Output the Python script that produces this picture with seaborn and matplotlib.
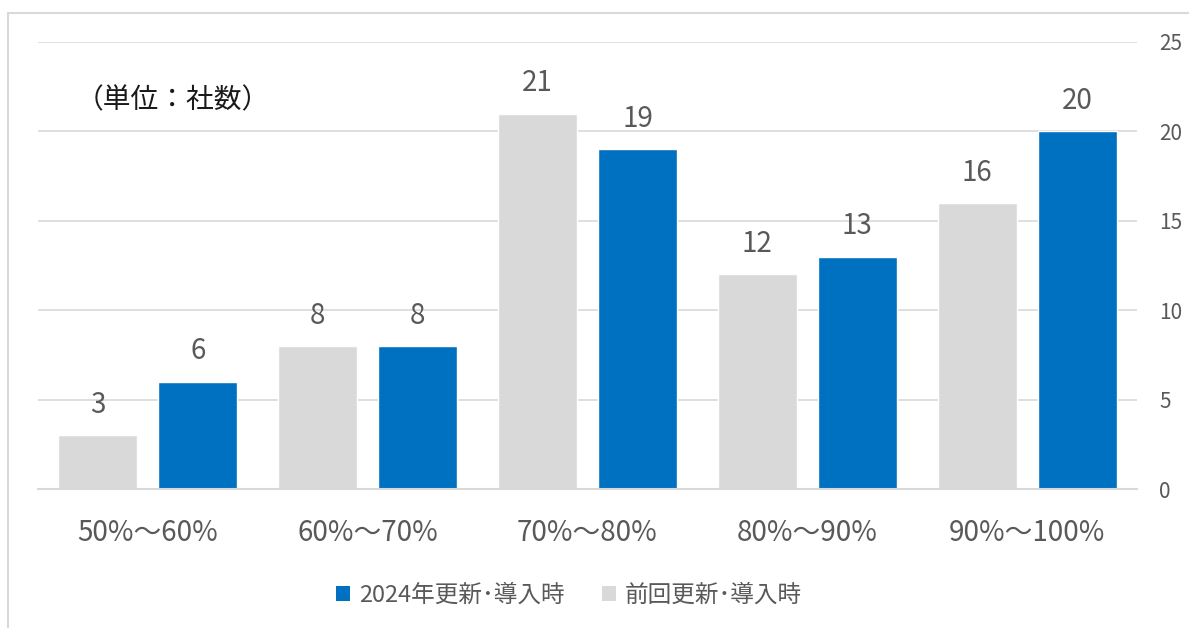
import matplotlib
matplotlib.use("Agg")
import matplotlib.pyplot as plt
from matplotlib.patches import Patch
from matplotlib.lines import Line2D
import seaborn as sns
import pandas as pd

# --- data ---
categories = ["50%～60%", "60%～70%", "70%～80%", "80%～90%", "90%～100%"]
series_prev = "前回更新･導入時"
series_2024 = "2024年更新･導入時"
values_prev = [3, 8, 21, 12, 16]
values_2024 = [6, 8, 19, 13, 20]
y_ticks = [0, 5, 10, 15, 20, 25]
unit_label = "（単位：社数）"

color_prev = "#D9D9D9"
color_2024 = "#0070C0"
text_color = "#595959"
grid_color = "#D9D9D9"

df = pd.DataFrame({
    "category": categories * 2,
    "value": values_prev + values_2024,
    "series": [series_prev] * len(categories) + [series_2024] * len(categories),
})

sns.set_theme(style="white")
plt.rcParams["font.family"] = ["Noto Sans CJK JP", "DejaVu Sans"]

W, H = 1189, 628
fig = plt.figure(figsize=(W / 100, H / 100), dpi=100)
ax = fig.add_axes([38 / W, 1 - 489 / H, 1099 / W, 447 / H])

sns.barplot(
    data=df, x="category", y="value", hue="series",
    hue_order=[series_prev, series_2024],
    palette=[color_prev, color_2024],
    width=0.91, gap=0.21, saturation=1, legend=False, ax=ax,
)

ax.set_ylim(0, 25)
ax.set_xlim(-0.5, len(categories) - 0.5)
ax.set_yticks(y_ticks)
ax.yaxis.tick_right()
ax.tick_params(axis="y", length=0, pad=16, labelsize=15, labelcolor=text_color)
ax.tick_params(axis="x", length=0, pad=21, labelsize=20, labelcolor=text_color)
ax.set_xlabel("")
ax.set_ylabel("")
ax.grid(axis="y", color=grid_color, linewidth=1.2)
ax.set_axisbelow(True)
for side in ["top", "left", "right"]:
    ax.spines[side].set_visible(False)
ax.spines["bottom"].set_color(grid_color)
ax.spines["bottom"].set_linewidth(1.5)

for container in ax.containers:
    ax.bar_label(container, padding=11, fontsize=20, color=text_color)

ax.text((76 - 38) / 1099, 1 - (100 - 42) / 447, unit_label, transform=ax.transAxes,
        fontsize=20, color="#1a1a1a", ha="left", va="center")

handles = [Patch(facecolor=color_2024, edgecolor="none", label=series_2024),
           Patch(facecolor=color_prev, edgecolor="none", label=series_prev)]
fig.legend(handles=handles, loc="center", bbox_to_anchor=(569 / W, 1 - 595 / H),
           ncol=2, frameon=False, fontsize=17, labelcolor=text_color,
           handlelength=0.6, handleheight=0.6, handletextpad=0.35, columnspacing=1.6)

# outer chart frame
fig.add_artist(Line2D([8 / W, 1], [1 - 13 / H, 1 - 13 / H],
                      transform=fig.transFigure, color=grid_color, linewidth=1.5))
fig.add_artist(Line2D([8 / W, 8 / W], [0, 1 - 13 / H],
                      transform=fig.transFigure, color=grid_color, linewidth=1.5))

fig.savefig("out.png", dpi=100, facecolor="white")
